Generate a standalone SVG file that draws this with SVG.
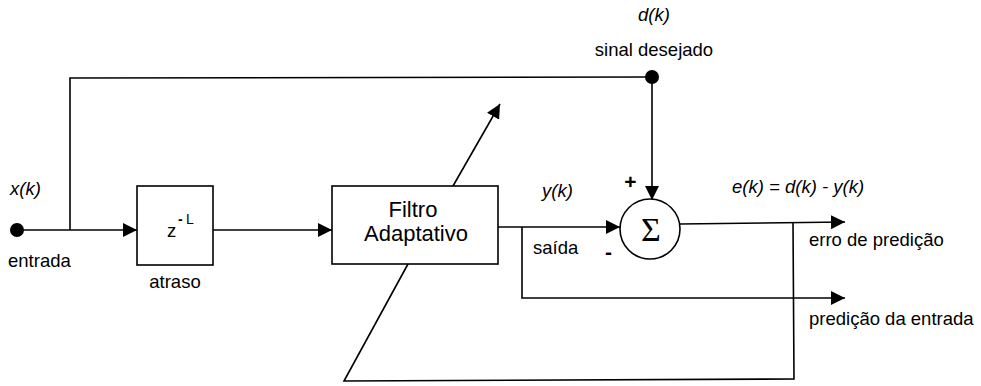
<svg xmlns="http://www.w3.org/2000/svg" width="981" height="386" viewBox="0 0 981 386">
<defs>
<marker id="arr" markerUnits="userSpaceOnUse" markerWidth="14" markerHeight="14" refX="14" refY="7" orient="auto">
<path d="M0,0 L14,7 L0,14 Z" fill="#000"/>
</marker>
<style>
.ln{fill:none;stroke:#000;stroke-width:1.6}
.box{fill:#fff;stroke:#000;stroke-width:1.6}
.t{font-family:"Liberation Sans",Arial,sans-serif;font-size:18.5px;fill:#000}
.big{font-size:22px}
.sign{font-size:21px;font-weight:bold}
.i{font-style:italic}
</style>
</defs>
<rect width="981" height="386" fill="#fff"/>
<g id="connectors">
<line class="ln" x1="17" y1="230" x2="137" y2="230" marker-end="url(#arr)"/>
<polyline class="ln" points="70,230 70,78 652,77"/>
<line class="ln" x1="652" y1="77" x2="652" y2="200" marker-end="url(#arr)"/>
<line class="ln" x1="213" y1="230" x2="332" y2="230" marker-end="url(#arr)"/>
<line class="ln" x1="498" y1="227" x2="620" y2="227" marker-end="url(#arr)"/>
<polyline class="ln" points="522,227 522,298 845,298" marker-end="url(#arr)"/>
<line class="ln" x1="680" y1="224" x2="845" y2="222" marker-end="url(#arr)"/>
<polyline class="ln" points="793,223 794,379 344,381 408,264"/>
<line class="ln" x1="453" y1="186" x2="500" y2="104" marker-end="url(#arr)"/>
</g>
<g id="input">
<circle cx="17" cy="230" r="7" fill="#000"/>
<text class="t i" x="10" y="195">x(k)</text>
<text class="t" x="8" y="267">entrada</text>
</g>
<g id="desired">
<circle cx="652" cy="77" r="7" fill="#000"/>
<text class="t i" x="654" y="21" text-anchor="middle">d(k)</text>
<text class="t" x="654" y="56" text-anchor="middle">sinal desejado</text>
</g>
<g id="atraso">
<rect class="box" x="137" y="186" width="76" height="79"/>
<text class="t" x="167" y="237">z<tspan x="178" y="224" font-size="14" font-weight="bold">-</tspan><tspan x="186" y="224" font-size="14">L</tspan></text>
<text class="t" x="175" y="288" text-anchor="middle">atraso</text>
</g>
<g id="filtro">
<rect class="box" x="332" y="186" width="166" height="78"/>
<text class="t big" x="413" y="217" text-anchor="middle">Filtro</text>
<text class="t big" x="416" y="241" text-anchor="middle">Adaptativo</text>
</g>
<g id="somador">
<circle class="box" cx="650" cy="229" r="30"/>
<text x="651" y="241" text-anchor="middle" font-family="'Liberation Serif','Times New Roman',serif" font-size="34">Σ</text>
<text class="t sign" x="630.5" y="189" text-anchor="middle">+</text>
<text class="t sign" x="608.5" y="259" text-anchor="middle">-</text>
</g>
<g id="labels">
<text class="t i" x="542" y="197">y(k)</text>
<text class="t" x="533" y="254">saída</text>
<text class="t i" x="732" y="193">e(k) = d(k) - y(k)</text>
<text class="t" x="809" y="246">erro de predição</text>
<text class="t" x="809" y="325">predição da entrada</text>
</g>
</svg>
